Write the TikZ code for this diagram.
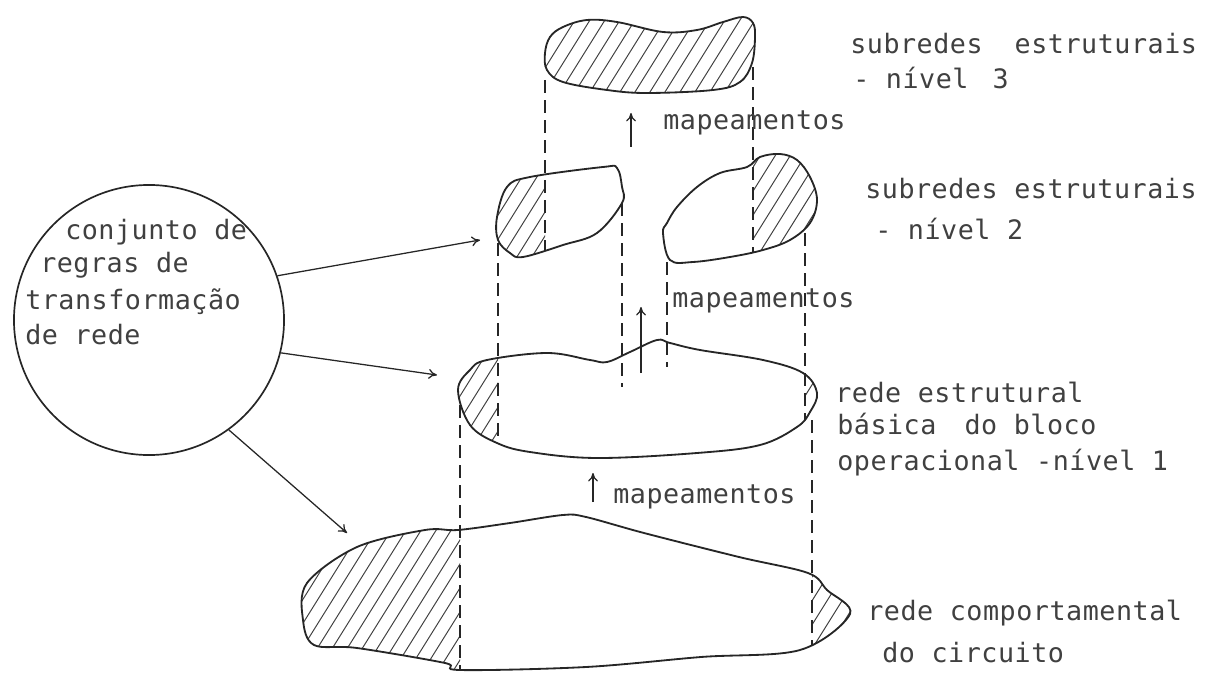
\documentclass[tikz,border=0pt]{standalone}
\usepackage{fontspec}
\newfontfamily\schrift[LetterSpace=2]{DejaVu Sans Mono}
\usetikzlibrary{arrows.meta}

% Umrisse der Netze (Pixelkoordinaten)
\newcommand{\ebeneDrei}{plot[smooth cycle, tension=0.6] coordinates {(545,53) (550,37) (563,27) (587,20) (617,22) (663,32) (697,30) (723,22) (743,17) (753,23) (755,37) (752,63) (740,82) (713,90) (647,93) (607,90) (563,82) (547,70)}}
\newcommand{\ebeneZweiL}{plot[smooth cycle, tension=0.6] coordinates {(497,217) (507,187) (530,177) (603,167) (617,168) (622,187) (622,203) (597,233) (563,245) (523,257) (510,253) (498,240)}}
\newcommand{\ebeneZweiR}{plot[smooth cycle, tension=0.6] coordinates {(663,233) (670,260) (693,262) (730,257) (763,250) (790,240) (810,223) (817,200) (810,177) (797,160) (780,154) (760,157) (747,167) (720,173) (697,187) (677,207) (667,223)}}
\newcommand{\ebeneEins}{plot[smooth cycle, tension=0.6] coordinates {(458,390) (470,370) (487,360) (547,353) (590,360) (607,362) (630,352) (657,340) (670,343) (700,350) (763,360) (803,373) (817,393) (810,412) (797,427) (760,445) (697,453) (597,458) (530,452) (497,443) (470,425)}}
\newcommand{\ebeneNull}{plot[smooth cycle, tension=0.55] coordinates {(458,530) (510,523) (563,515) (586,517) (644,533) (739,557) (808,573) (827,590) (850,614) (800,650) (701,657) (586,667) (460,670) (445,663) (357,648) (314,645) (303,620) (307,583) (357,547) (425,530)}}
\newcommand{\schraffiere}{\foreach \hx in {-450,-435,...,1230} {\draw[schraffur] (\hx,700) -- ++(437.5,-700);}}

\begin{document}
\begin{tikzpicture}[
    x=0.025cm, y=-0.025cm,
    >={To[length=6pt,width=7pt]},
    every node/.style={font=\schrift\fontsize{19}{23}\selectfont, text=black!75, inner sep=0pt},
    umriss/.style={draw=black!85, line width=1.3pt},
    projektion/.style={draw=black!85, line width=1pt, dash pattern=on 0.33cm off 0.17cm},
    schraffur/.style={draw=black!75, line width=0.7pt},
    pfeil/.style={->, draw=black!85, line width=0.9pt},
    regelkreis/.style={draw=black!85, line width=1.2pt, circle, minimum size=6.75cm},
    txt/.style={anchor=base west}
]
\useasboundingbox (0,0) rectangle (1227,675);

% Schraffuren
\begin{scope}
  \clip \ebeneDrei;
  \schraffiere
\end{scope}
\begin{scope}
  \clip (0,0) rectangle (545,675);
  \clip \ebeneZweiL;
  \schraffiere
\end{scope}
\begin{scope}
  \clip (753,0) rectangle (1227,675);
  \clip \ebeneZweiR;
  \schraffiere
\end{scope}
\begin{scope}
  \clip (0,0) rectangle (498,675);
  \clip \ebeneEins;
  \schraffiere
\end{scope}
\begin{scope}
  \clip (805,0) rectangle (1227,675);
  \clip \ebeneEins;
  \schraffiere
\end{scope}
\begin{scope}
  \clip (0,0) rectangle (460,675);
  \clip \ebeneNull;
  \schraffiere
\end{scope}
\begin{scope}
  \clip (812,0) rectangle (1227,675);
  \clip \ebeneNull;
  \schraffiere
\end{scope}

% Umrisse
\draw[umriss] \ebeneDrei;
\draw[umriss] \ebeneZweiL;
\draw[umriss] \ebeneZweiR;
\draw[umriss] \ebeneEins;
\draw[umriss] \ebeneNull;

% Projektionslinien
\draw[projektion] (545,80) -- (545,250);
\draw[projektion] (753,67) -- (753,253);
\draw[projektion] (498,243) -- (498,443);
\draw[projektion] (622,203) -- (622,387);
\draw[projektion] (667,262) -- (667,367);
\draw[projektion] (805,233) -- (805,420);
\draw[projektion] (460,405) -- (460,670);
\draw[projektion] (812,420) -- (812,645);

% Regelkreis
\node[regelkreis] (regeln) at (149,320) {};
\node[txt] (r1) at (65,239) {conjunto de};
\node[txt] (r2) at (40,272) {regras de};
\node[txt] (r3) at (25,309) {transformação};
\node[txt] (r4) at (25,344) {de rede};

% Pfeile zu den Ebenen
\coordinate (zielA) at (480,240);
\coordinate (zielB) at (437,375);
\coordinate (zielC) at (347,533);
\draw[pfeil] (regeln.19) -- (zielA);
\draw[pfeil] (regeln.-14) -- (zielB);
\draw[pfeil] (regeln.-54) -- (zielC);

% Abbildungen
\coordinate (m3u) at (631,147);
\coordinate (m3o) at (631,113);
\draw[pfeil] (m3u) -- (m3o);
\node[txt] (m3) at (663,130) {mapeamentos};
\coordinate (m2u) at (641,373);
\coordinate (m2o) at (641,307);
\draw[pfeil] (m2u) -- (m2o);
\node[txt] (m2) at (672,307) {mapeamentos};
\coordinate (m1u) at (593,502);
\coordinate (m1o) at (593,473);
\draw[pfeil] (m1u) -- (m1o);
\node[txt] (m1) at (613,503) {mapeamentos};

% Beschriftungen rechts
\node[txt] (n3a) at (850,54) {subredes\hspace{1.2em}estruturais};
\node[txt] (n3b) at (853,89) {- nível\hspace{0.9em}3};
\node[txt] (n2a) at (865,199) {subredes estruturais};
\node[txt] (n2b) at (875,240) {- nível 2};
\node[txt] (n1a) at (835,402) {rede estrutural};
\node[txt] (n1b) at (837,434) {básica\hspace{1.05em}do bloco};
\node[txt] (n1c) at (837,470) {operacional -nível 1};
\node[txt] (n0a) at (867,620) {rede comportamental};
\node[txt] (n0b) at (882,662) {do circuito};

\end{tikzpicture}
\end{document}
